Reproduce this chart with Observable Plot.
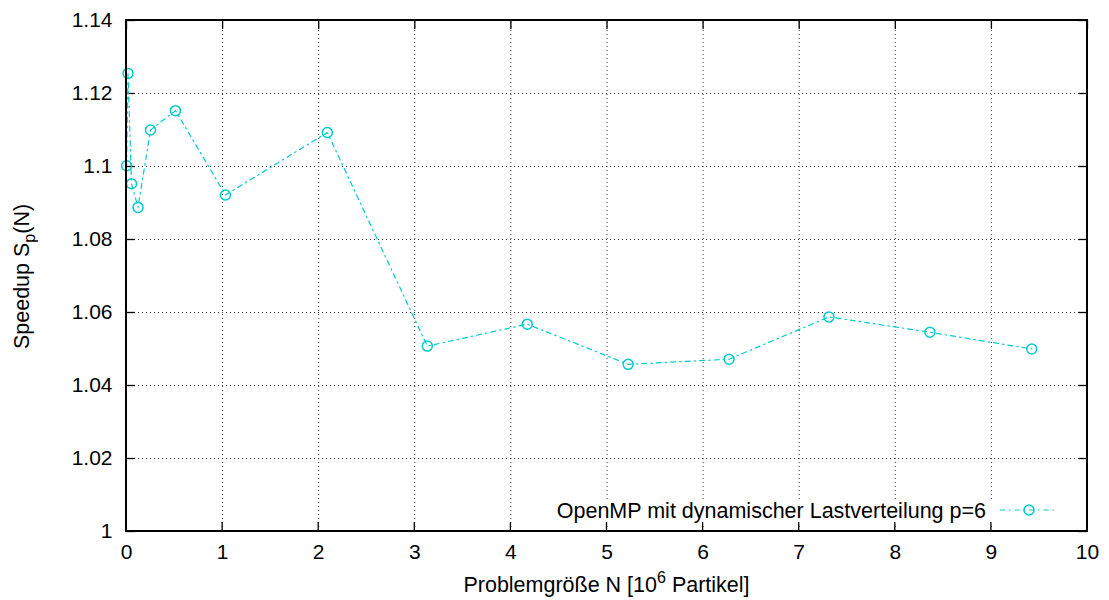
<!DOCTYPE html>
<html>
<head>
<meta charset="utf-8">
<script src="https://cdn.jsdelivr.net/npm/d3@7"></script>
<script src="https://cdn.jsdelivr.net/npm/@observablehq/plot@0.6"></script>
<style>
  html, body { margin: 0; padding: 0; background: #fff; }
  #chart svg { display: block; }
</style>
</head>
<body>
<div id="chart"></div>
<script>
// Problem size N [10^6 particles]
const problemSize = [0.001, 0.016, 0.052, 0.12, 0.25, 0.51, 1.03, 2.09, 3.13, 4.17, 5.22, 6.27, 7.31, 8.36, 9.42];
// Speedup S_p(N)
const speedup = [1.1002, 1.1255, 1.0953, 1.0888, 1.1100, 1.1153, 1.0922, 1.1093, 1.0508, 1.0568, 1.0458, 1.0472, 1.0588, 1.0546, 1.0500];
const seriesLabel = "OpenMP mit dynamischer Lastverteilung p=6";
const xTicks = [0, 1, 2, 3, 4, 5, 6, 7, 8, 9, 10];
const yTicks = [1, 1.02, 1.04, 1.06, 1.08, 1.1, 1.12, 1.14];

const data = problemSize.map((n, i) => ({n, s: speedup[i]}));

const W = 1109, H = 600;
const mL = 126, mR = 22, mT = 20, mB = 69;
const color = "#00cccc";
const font = "'Liberation Sans', Arial, Helvetica, sans-serif";
const fs = 21.5;

const xTickLen = 9 / ((W - mL - mR) / 10);
const yTickLen = 9 / ((H - mT - mB) / 0.14);

const chart = Plot.plot({
  width: W,
  height: H,
  marginLeft: mL,
  marginRight: mR,
  marginTop: mT,
  marginBottom: mB,
  style: {fontFamily: font, fontSize: fs + "px", color: "#000", background: "#fff"},
  x: {domain: [0, 10], ticks: xTicks, label: null},
  y: {domain: [1, 1.14], ticks: yTicks, label: null},
  marks: [
    // dotted grid
    Plot.ruleX(xTicks.slice(1, -1), {y1: 1, y2: 1.14, stroke: "#333", strokeWidth: 1, strokeDasharray: "1,3"}),
    Plot.ruleY(yTicks.slice(1, -1), {x1: 0, x2: 10, stroke: "#333", strokeWidth: 1, strokeDasharray: "1,3"}),
    // inward ticks (mirrored)
    Plot.ruleX(xTicks, {y1: 1.14, y2: 1.14 - yTickLen, stroke: "#000", strokeWidth: 1.3}),
    Plot.ruleY(yTicks, {x1: 0, x2: xTickLen, stroke: "#000", strokeWidth: 1.3}),
    Plot.ruleY(yTicks, {x1: 10, x2: 10 - xTickLen, stroke: "#000", strokeWidth: 1.3}),
    // axes labels
    Plot.axisX({ticks: xTicks, tickSize: 0, tickPadding: 13, tickFormat: d => String(d), fontSize: 21, label: null}),
    Plot.axisY({ticks: yTicks, tickSize: 0, tickPadding: 14, tickFormat: d => String(+d.toFixed(2)), fontSize: 21, label: null}),
    // data
    Plot.line(data, {x: "n", y: "s", stroke: color, strokeWidth: 1.2, strokeDasharray: "5,4,1.5,4"}),
    Plot.dot(data, {x: "n", y: "s", r: 5, stroke: color, strokeWidth: 1.5, fill: "none", symbol: "circle"})
  ]
});

document.getElementById("chart").appendChild(chart);

const svg = d3.select(chart);
const xs = chart.scale("x");

// Legend (inside bottom-right, opaque background)
const lg = svg.append("g").attr("font-family", font).attr("font-size", fs);
lg.append("rect").attr("x", 540).attr("y", 499).attr("width", 1070 - 540).attr("height", 24).attr("fill", "#fff");
lg.append("text").attr("x", 986).attr("y", 518).attr("text-anchor", "end").attr("fill", "#000").text(seriesLabel);
lg.append("line").attr("x1", 1000).attr("x2", 1058).attr("y1", 510).attr("y2", 510)
  .attr("stroke", color).attr("stroke-width", 1.2).attr("stroke-dasharray", "5,4,1.5,4");
lg.append("circle").attr("cx", 1029).attr("cy", 510).attr("r", 5).attr("fill", "none").attr("stroke", color).attr("stroke-width", 1.5);
// bottom ticks drawn over legend box
xTicks.forEach(t => {
  svg.append("line").attr("x1", xs.apply(t)).attr("x2", xs.apply(t)).attr("y1", H - mB).attr("y2", H - mB - 9)
    .attr("stroke", "#000").attr("stroke-width", 1.3);
});
// frame
svg.append("rect").attr("x", mL).attr("y", mT).attr("width", W - mL - mR).attr("height", H - mT - mB)
  .attr("fill", "none").attr("stroke", "#000").attr("stroke-width", 2);

// Axis titles
const xl = svg.append("text").attr("x", mL + (W - mL - mR) / 2).attr("y", 592).attr("text-anchor", "middle")
  .attr("font-family", font).attr("font-size", fs).attr("fill", "#000");
xl.append("tspan").text("Problemgröße N [10");
xl.append("tspan").attr("dy", -9).attr("font-size", 16).text("6");
xl.append("tspan").attr("dy", 9).text(" Partikel]");

const yl = svg.append("text").attr("transform", `translate(29,${mT + (H - mT - mB) / 2 + 1}) rotate(-90)`)
  .attr("text-anchor", "middle").attr("font-family", font).attr("font-size", fs).attr("fill", "#000");
yl.append("tspan").text("Speedup S");
yl.append("tspan").attr("dy", 6).attr("font-size", 16).text("p");
yl.append("tspan").attr("dy", -6).text("(N)");
</script>
</body>
</html>
